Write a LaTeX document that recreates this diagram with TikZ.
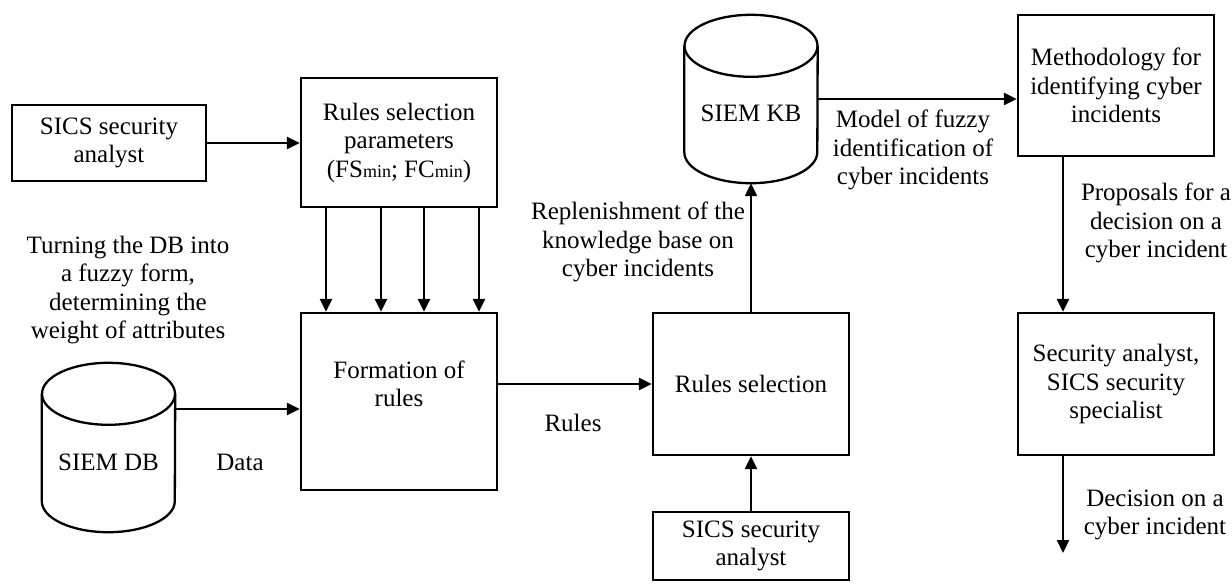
\documentclass[tikz,border=0pt]{standalone}
\usepackage{fontspec}
\setmainfont{Liberation Serif}
\usetikzlibrary{arrows.meta,calc}
\newcommand{\subm}[1]{{\fontsize{18}{20}\selectfont #1}}
\tikzset{
  box/.style={draw, line width=2.3pt, minimum width=196pt, inner sep=0pt, align=center, font=\fontsize{25}{28.5}\selectfont},
  txt/.style={align=center, inner sep=0pt, font=\fontsize{25}{28.5}\selectfont},
  arr/.style={line width=2.3pt, -{Triangle[length=13pt,width=12pt]}},
  cyl/.style={line width=2.3pt},
  cylbox/.style={inner sep=0pt, minimum width=133pt}
}
\begin{document}
\begin{tikzpicture}[x=1pt,y=-1pt]
\useasboundingbox (0,0) rectangle (1232,584);
% boxes
\node[box, minimum width=194pt, minimum height=76pt] (sics1) at (109,143) {SICS security\\analyst};
\node[box, minimum height=129pt] (params) at (399,142.5) {Rules selection\\parameters\\(FS\subm{min}; FC\subm{min})};
\node[box, minimum height=177pt] (form) at (399,401.5) {};
\node[txt] (formtxt) at (399,384) {Formation of\\rules};
\node[box, minimum height=142pt] (rsel) at (751,384) {Rules selection};
\node[box, minimum height=68pt] (sics2) at (751,546) {SICS security\\analyst};
\node[box, minimum height=141pt] (meth) at (1116,85.5) {Methodology for\\identifying cyber\\incidents};
\node[box, minimum height=142pt] (sec) at (1116,384) {Security analyst,\\SICS security\\specialist};
% cylinders
\node[cylbox, minimum height=169pt] (db) at (108.5,447.5) {};
\draw[cyl] ($(db.north west)+(0,31)$) -- ($(db.south west)+(0,-31)$)
  arc[start angle=180, end angle=360, x radius=66.5pt, y radius=31pt]
  -- ($(db.north east)+(0,31)$);
\draw[cyl] ($(db.north)+(0,31)$) ellipse[x radius=66.5pt, y radius=31pt];
\node[txt] (dbtxt) at (108.5,462) {SIEM DB};
\node[cylbox, minimum height=168pt] (kb) at (751,99) {};
\draw[cyl] ($(kb.north west)+(0,31)$) -- ($(kb.south west)+(0,-31)$)
  arc[start angle=180, end angle=360, x radius=66.5pt, y radius=31pt]
  -- ($(kb.north east)+(0,31)$);
\draw[cyl] ($(kb.north)+(0,31)$) ellipse[x radius=66.5pt, y radius=31pt];
\node[txt] (kbtxt) at (751,113) {SIEM KB};
% connectors
\draw[arr] (sics1.east) -- (sics1.east -| params.west);
\foreach \dx in {-73,-18,25,80}{
  \draw[arr] ([xshift=\dx pt]params.south) -- ([xshift=\dx pt]form.north);
}
\draw[arr] ([yshift=38.5pt]db.east) -- ([yshift=-7.5pt]form.west);
\draw[arr] (form.east |- rsel.west) -- (rsel.west);
\draw[arr] (sics2.north) -- (rsel.south);
\draw[arr] (rsel.north) -- (kb.south);
\draw[arr] (kb.east) -- (kb.east -| meth.west);
\draw[arr] ([xshift=-53pt]meth.south) -- ([xshift=-53pt]sec.north);
\coordinate (decend) at (1063,553);
\draw[arr] ([xshift=-53pt]sec.south) -- (decend);
% labels
\node[txt] (turning) at (128,290) {Turning the DB into\\a fuzzy form,\\determining the\\weight of attributes};
\node[txt] (data) at (240,462) {Data};
\node[txt] (rules) at (573,423) {Rules};
\node[txt] (replen) at (638,242) {Replenishment of the\\knowledge base on\\cyber incidents};
\node[txt] (model) at (913,150) {Model of fuzzy\\identification of\\cyber incidents};
\node[txt] (prop) at (1156,223) {Proposals for a\\decision on a\\cyber incident};
\node[txt] (dec) at (1155,515) {Decision on a\\cyber incident};
\end{tikzpicture}
\end{document}
